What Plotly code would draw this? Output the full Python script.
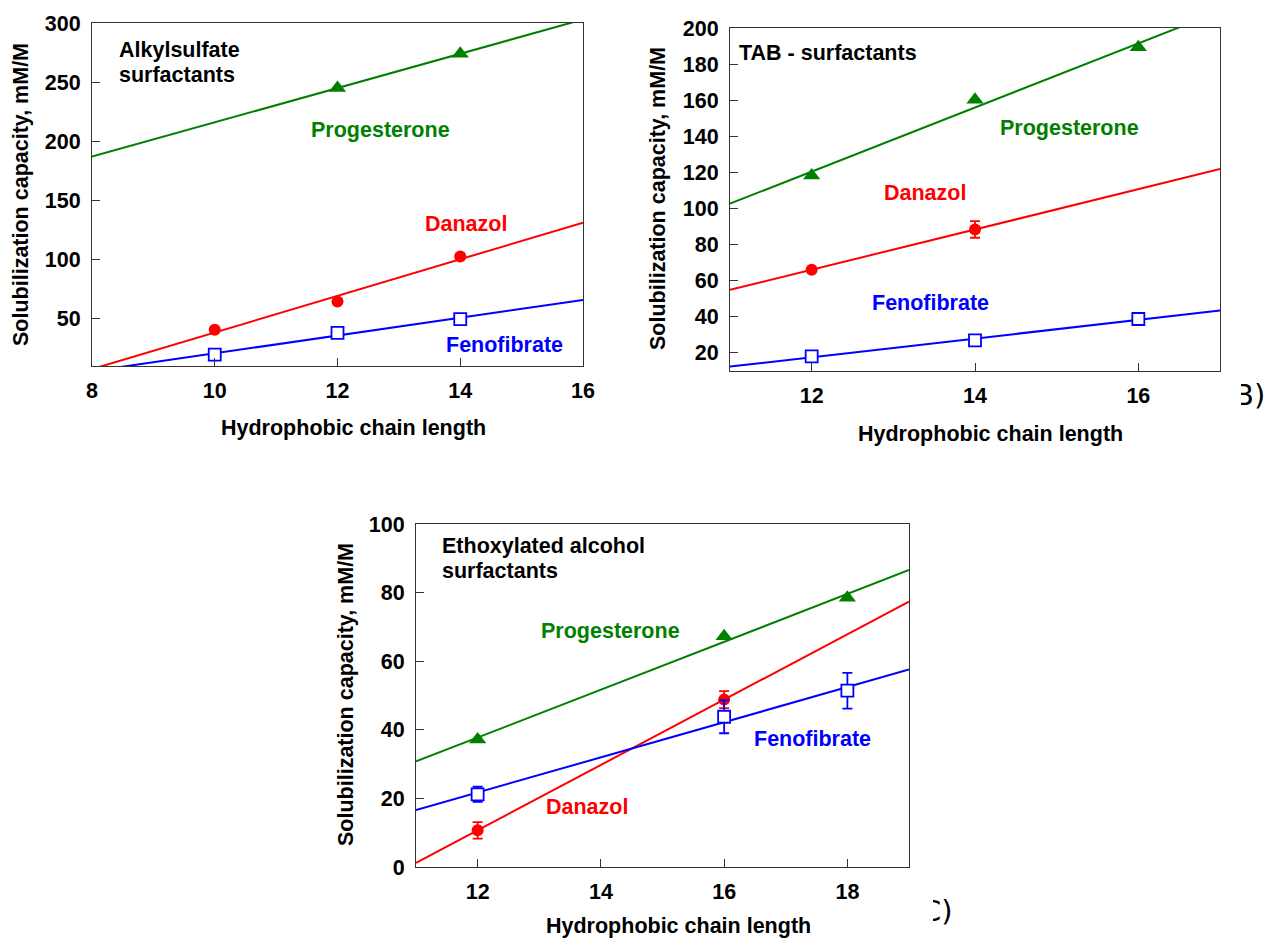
import numpy as np
import plotly.graph_objects as go

# ---------------- data ----------------
# Panel A: Alkylsulfate surfactants
a_prog_x = [12, 14]
a_prog_y = [245, 274]
a_dan_x = [10, 12, 14]
a_dan_y = [40.7, 64.6, 102.6]
a_fen_x = [10, 12, 14]
a_fen_y = [19.6, 38.0, 49.7]

# Panel B: TAB surfactants
b_prog_x = [12, 14, 16]
b_prog_y = [118.3, 160.3, 189.3]
b_dan_x = [12, 14]
b_dan_y = [66.1, 88.4]
b_dan_err = [0, 4.6]
b_fen_x = [12, 14, 16]
b_fen_y = [18.1, 27.0, 38.8]

# Panel C: Ethoxylated alcohol surfactants
c_prog_x = [12, 16, 18]
c_prog_y = [37.2, 67.3, 78.5]
c_dan_x = [12, 16]
c_dan_y = [10.7, 48.8]
c_dan_err = [2.4, 2.5]
c_fen_x = [12, 16, 18]
c_fen_y = [21.2, 43.8, 51.4]
c_fen_err = [2.2, 4.8, 5.2]

panel_a_note = ["Alkylsulfate", "surfactants"]
panel_b_note = ["TAB - surfactants"]
panel_c_note = ["Ethoxylated alcohol", "surfactants"]
x_title = "Hydrophobic chain length"
y_title = "Solubilization capacity, mM/M"

# ---------------- style ----------------
W, H = 1273, 940
OFF = 8  # default page margin around the plot div
GREEN, RED, BLUE = "#008000", "#ff0000", "#0000ff"
FAM = "Liberation Sans, Arial, Helvetica, sans-serif"
FS = 21.5
BOLD = dict(family=FAM, size=FS, color="black", weight="bold")


def px(x):
    return (x - OFF) / W


def py(y):
    return 1 - (y - OFF) / H


panels = {
    # name: (left, right, top, bottom) in screen pixels, x range, y range, y dtick
    "A": dict(box=(92, 583, 23, 366), xr=[8, 16], yr=[10, 300], dy=50),
    "B": dict(box=(730, 1220, 28, 371), xr=[11, 17], yr=[10, 200], dy=20),
    "C": dict(box=(416, 909, 524, 867), xr=[11, 19], yr=[0, 100], dy=20),
}
axis_ids = {"A": ("x", "y", "xaxis", "yaxis"),
            "B": ("x2", "y2", "xaxis2", "yaxis2"),
            "C": ("x3", "y3", "xaxis3", "yaxis3")}

fig = go.Figure()


def add_series(panel, xs, ys, color, symbol, filled, err=None):
    xa, ya = axis_ids[panel][0], axis_ids[panel][1]
    xr = panels[panel]["xr"]
    k, b = np.polyfit(xs, ys, 1)
    lx = np.array(xr, dtype=float)
    fig.add_trace(go.Scatter(x=lx, y=k * lx + b, mode="lines",
                             line=dict(color=color, width=2),
                             xaxis=xa, yaxis=ya, showlegend=False,
                             hoverinfo="skip"))
    size = {"triangle-up": 15, "circle": 12, "square": 12}[symbol]
    marker = dict(symbol=symbol, size=size,
                  color=color if filled else "white",
                  line=dict(color=color, width=0 if filled else 1.8))
    kw = {}
    if err is not None:
        kw["error_y"] = dict(type="data", array=err, visible=True,
                             color=color, thickness=1.8, width=5)
    fig.add_trace(go.Scatter(x=xs, y=ys, mode="markers", marker=marker,
                             xaxis=xa, yaxis=ya, showlegend=False, **kw))


add_series("A", a_prog_x, a_prog_y, GREEN, "triangle-up", True)
add_series("A", a_dan_x, a_dan_y, RED, "circle", True)
add_series("A", a_fen_x, a_fen_y, BLUE, "square", False)

add_series("B", b_prog_x, b_prog_y, GREEN, "triangle-up", True)
add_series("B", b_dan_x, b_dan_y, RED, "circle", True, b_dan_err)
add_series("B", b_fen_x, b_fen_y, BLUE, "square", False)

add_series("C", c_prog_x, c_prog_y, GREEN, "triangle-up", True)
add_series("C", c_dan_x, c_dan_y, RED, "circle", True, c_dan_err)
add_series("C", c_fen_x, c_fen_y, BLUE, "square", False, c_fen_err)

layout = dict(width=W, height=H, autosize=False,
              margin=dict(l=0, r=0, t=0, b=0, autoexpand=False),
              paper_bgcolor="white", plot_bgcolor="white",
              showlegend=False)

for p, cfg in panels.items():
    l, r, t, b = cfg["box"]
    xa_key, ya_key = axis_ids[p][2], axis_ids[p][3]
    xa_ref, ya_ref = axis_ids[p][0], axis_ids[p][1]
    layout[xa_key] = dict(domain=[px(l), px(r)], range=cfg["xr"],
                          anchor=ya_ref, tick0=0, dtick=2,
                          ticks="inside", ticklen=8, tickwidth=1.2,
                          tickcolor="#333", showline=True, linecolor="#333",
                          linewidth=1.2, mirror=True, showgrid=False,
                          zeroline=False, tickfont=BOLD, automargin=False,
                          ticklabelstandoff=5)
    layout[ya_key] = dict(domain=[py(b), py(t)], range=cfg["yr"],
                          anchor=xa_ref, tick0=0, dtick=cfg["dy"],
                          ticks="inside", ticklen=8, tickwidth=1.2,
                          tickcolor="#333", showline=True, linecolor="#333",
                          linewidth=1.2, mirror=True, showgrid=False,
                          zeroline=False, tickfont=BOLD, automargin=False,
                          ticklabelstandoff=6)

fig.update_layout(**layout)

ann = []


def text(x, y, s, color="black", xanchor="center", size=FS, bold=True,
         family=FAM, angle=0):
    f = dict(family=family, size=size, color=color)
    if bold:
        f["weight"] = "bold"
    ann.append(dict(x=px(x), y=py(y), xref="paper", yref="paper", text=s,
                    showarrow=False, xanchor=xanchor, yanchor="middle",
                    font=f, textangle=angle))


# axis titles
text(353, 428, x_title)
text(990, 434, x_title)
text(678, 926, x_title)
text(21, 195, y_title, angle=-90)
text(658, 199, y_title, angle=-90)
text(346, 695, y_title, angle=-90)

# panel notes
text(117, 50, panel_a_note[0], xanchor="left")
text(117, 75, panel_a_note[1], xanchor="left")
text(737, 53, panel_b_note[0], xanchor="left")
text(440, 546, panel_c_note[0], xanchor="left")
text(440, 571, panel_c_note[1], xanchor="left")

# series labels
text(380, 130, "Progesterone", GREEN)
text(466, 224, "Danazol", RED)
text(504, 345, "Fenofibrate", BLUE)
text(1069, 128, "Progesterone", GREEN)
text(925, 193, "Danazol", RED)
text(930, 303, "Fenofibrate", BLUE)
text(610, 631, "Progesterone", GREEN)
text(812, 739, "Fenofibrate", BLUE)
text(587, 807, "Danazol", RED)

# panel letters (partly cut off in the original picture)
text(1232, 395, "B)", xanchor="left", size=29, bold=False, family="DejaVu Sans")
text(919, 911, "C)", xanchor="left", size=29, bold=False, family="DejaVu Sans")

# white masks hiding the left parts of the panel letters, as in the original
for (x0, x1, yc) in [(1223, 1241, 395), (906, 933, 911)]:
    ann.append(dict(x=px(x0), y=py(yc), xref="paper", yref="paper", text=" ",
                    showarrow=False, xanchor="left", yanchor="middle",
                    width=x1 - x0, height=44, bgcolor="white",
                    borderpad=0, borderwidth=0))

fig.update_layout(annotations=ann)

fig.write_html("out.html")
